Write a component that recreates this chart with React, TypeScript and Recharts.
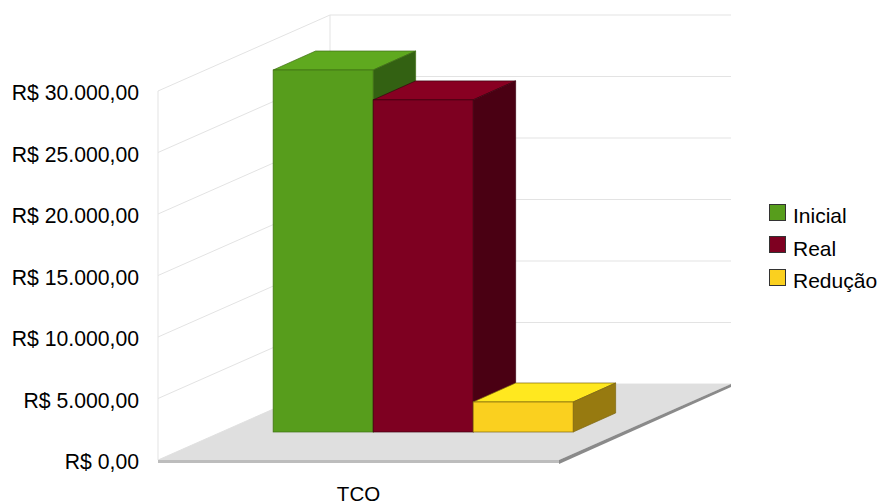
import React from 'react';
import { BarChart, Bar, XAxis, YAxis, CartesianGrid, Legend } from 'recharts';

const categories = ['TCO'];
const inicial = [29430];
const real = [27000];
const reducao = [2440];
const yTicks = [0, 5000, 10000, 15000, 20000, 25000, 30000];

const chartData = categories.map((name, i) => ({
  name,
  inicial: inicial[i],
  real: real[i],
  reducao: reducao[i],
}));

const FONT = '"Liberation Sans", Arial, sans-serif';

// fake perspective: how far the back wall and the bar row sit from the front plane
const WALL_DX = 172;
const WALL_DY = -76;
const ROW_DX = 65;
const ROW_DY = -28;
const BAR_DX = 42.5;
const BAR_DY = -19;

const formatMoney = (value: number) =>
  'R$ ' + value.toLocaleString('pt-BR', { minimumFractionDigits: 2, maximumFractionDigits: 2 });

const pts = (list: number[][]) => list.map((p) => p.join(',')).join(' ');

// one grid line per tick, folded along the side wall and the back wall
const WallLine = (props: any) => {
  const { x1, x2, y1, index } = props;
  const backX = x1 + WALL_DX;
  const backY = y1 + WALL_DY;
  const isFloor = index === 0;
  return (
    <g>
      <polyline
        points={pts([[x1, y1], [backX, backY], [x2 + WALL_DX, backY]])}
        fill="none"
        stroke="#e3e3e3"
        strokeWidth={1}
      />
      {isFloor && (
        <g>
          <line x1={x1} y1={y1} x2={x1} y2={y1 - 369} stroke="#e3e3e3" />
          <line x1={backX} y1={backY} x2={backX} y2={backY - 369} stroke="#e3e3e3" />
          <polygon
            points={pts([[x1, y1], [backX, backY], [x2 + WALL_DX, backY], [x2, y1]])}
            fill="#dfdfdf"
          />
          <polygon points={pts([[x1, y1], [x2, y1], [x2, y1 + 3], [x1, y1 + 3]])} fill="#bdbdbd" />
          <polygon
            points={pts([[x2, y1], [x2 + WALL_DX, backY], [x2 + WALL_DX, backY + 3], [x2, y1 + 4]])}
            fill="#8a8a8a"
          />
        </g>
      )}
    </g>
  );
};

// a bar drawn as a box: front face from the scale, top and side pushed back by the depth
const boxShape = (topFill: string, sideFill: string, edge: string) => (props: any) => {
  const { x, y, width, height, fill } = props;
  const l = x + ROW_DX;
  const r = l + width;
  const t = y + ROW_DY;
  const b = t + height;
  return (
    <g>
      <polygon
        points={pts([[l, t], [r, t], [r + BAR_DX, t + BAR_DY], [l + BAR_DX, t + BAR_DY]])}
        fill={topFill}
        stroke={edge}
        strokeWidth={0.7}
      />
      <polygon
        points={pts([[r, t], [r + BAR_DX, t + BAR_DY], [r + BAR_DX, b + BAR_DY], [r, b]])}
        fill={sideFill}
        stroke={edge}
        strokeWidth={0.7}
      />
      <rect x={l} y={t} width={width} height={height} fill={fill} stroke={edge} strokeWidth={0.7} />
    </g>
  );
};

const LegendList = ({ payload }: any) => (
  <div style={{ fontFamily: FONT, fontSize: 21, color: '#000' }}>
    {(payload || []).map((entry: any) => (
      <div key={entry.value} style={{ display: 'flex', alignItems: 'center', height: 32.5 }}>
        <span
          style={{
            display: 'inline-block',
            boxSizing: 'border-box',
            width: 17,
            height: 17,
            marginRight: 7,
            marginTop: -8,
            background: entry.color,
            border: '1px solid #333',
          }}
        />
        <span>{entry.value}</span>
      </div>
    ))}
  </div>
);

export default function App() {
  return (
    <div style={{ position: 'absolute', left: 0, top: 0, width: 882, height: 504 }}>
      <BarChart
        width={882}
        height={504}
        data={chartData}
        margin={{ top: 91, right: 210, bottom: 0, left: 0 }}
        barCategoryGap="12.5%"
        barGap={0}
      >
        <CartesianGrid vertical={false} horizontal={(p: any) => <WallLine key={p.key} {...p} />} />
        <XAxis
          dataKey="name"
          height={44}
          axisLine={false}
          tickLine={false}
          tickSize={0}
          tickMargin={26}
          tick={{ fontFamily: FONT, fontSize: 20.5, fill: '#000' }}
        />
        <YAxis
          width={158}
          domain={[0, 30000]}
          ticks={yTicks}
          tickFormatter={formatMoney}
          axisLine={false}
          tickLine={false}
          tickSize={0}
          tickMargin={19}
          tick={{ fontFamily: FONT, fontSize: 21.2, fill: '#000', dy: 1.5 }}
        />
        <Legend
          layout="vertical"
          align="right"
          verticalAlign="middle"
          content={LegendList}
          wrapperStyle={{ width: 113, left: 769, top: 200 }}
        />
        <Bar
          dataKey="inicial"
          name="Inicial"
          fill="#579d1c"
          isAnimationActive={false}
          shape={boxShape('#5fa91f', '#336112', '#3f6f14')}
        />
        <Bar
          dataKey="real"
          name="Real"
          fill="#7e0021"
          isAnimationActive={false}
          shape={boxShape('#880022', '#4a0013', '#3c0010')}
        />
        <Bar
          dataKey="reducao"
          name="Redução"
          fill="#fad01f"
          isAnimationActive={false}
          shape={boxShape('#ffe81f', '#977a10', '#7d6510')}
        />
      </BarChart>
    </div>
  );
}
